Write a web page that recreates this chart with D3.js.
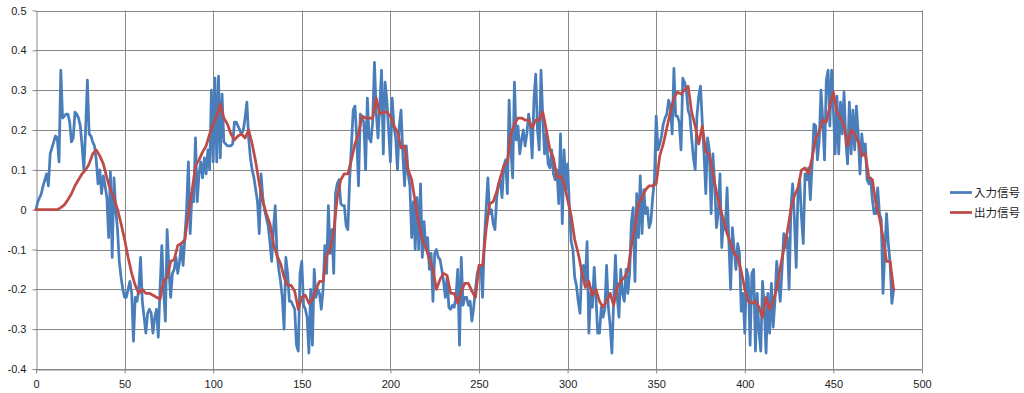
<!DOCTYPE html>
<html><head><meta charset="utf-8">
<script src="https://cdn.jsdelivr.net/npm/d3@7"></script>
<style>body{margin:0;background:#fff;} svg{display:block}</style>
</head><body><svg id="c" width="1024" height="393"></svg>
<script>
// 入力信号: one value per sample, x = 0..484
const inputSignal = [
0.00,0.02,0.03,0.04,0.06,0.075,0.09,0.06,0.14,0.155,
0.17,0.185,0.18,0.12,0.35,0.23,0.235,0.24,0.24,0.22,
0.17,0.18,0.245,0.24,0.23,0.21,0.16,0.10,0.20,0.325,
0.19,0.185,0.17,0.16,0.125,0.065,0.10,0.04,0.085,0.06,
0.03,-0.07,0.095,-0.12,0.08,0.0,-0.05,-0.13,-0.17,-0.2,
-0.22,-0.22,-0.2,-0.18,-0.21,-0.33,-0.22,-0.23,-0.2,-0.12,
-0.23,-0.27,-0.31,-0.26,-0.25,-0.26,-0.31,-0.27,-0.25,-0.32,
-0.2,-0.09,-0.2,-0.28,-0.05,-0.15,-0.22,-0.16,-0.15,-0.12,
-0.16,-0.13,-0.09,-0.14,-0.07,0.0,0.12,-0.06,0.04,0.02,
0.18,0.02,0.09,0.12,0.08,0.13,0.09,0.15,0.10,0.30,
0.12,0.33,0.12,0.335,0.13,0.29,0.17,0.165,0.16,0.16,
0.16,0.165,0.22,0.22,0.21,0.20,0.19,0.20,0.23,0.27,
0.18,0.13,0.10,0.08,0.05,0.02,-0.06,0.09,0.03,0.00,
-0.02,-0.04,-0.08,-0.13,-0.05,0.01,-0.11,-0.15,-0.18,-0.22,
-0.30,-0.12,-0.16,-0.23,-0.23,-0.24,-0.25,-0.34,-0.355,-0.16,
-0.13,-0.24,-0.25,-0.27,-0.36,-0.20,-0.34,-0.15,-0.22,-0.20,
-0.21,-0.25,-0.20,-0.09,-0.16,0.01,-0.11,-0.05,-0.16,0.04,
0.065,0.075,0.015,0.01,0.01,-0.04,-0.05,0.075,0.16,0.25,
0.26,0.18,0.06,0.24,0.23,0.22,0.10,0.28,0.18,0.17,
0.22,0.37,0.245,0.18,0.26,0.35,0.14,0.32,0.275,0.20,
0.12,0.28,0.21,0.18,0.10,0.21,0.25,0.14,0.06,0.16,
0.09,0.06,-0.07,0.02,-0.10,0.03,-0.10,0.065,-0.12,-0.03,
-0.10,-0.07,-0.15,-0.11,-0.23,-0.11,-0.10,-0.12,-0.125,-0.15,
-0.18,-0.22,-0.17,-0.245,-0.25,-0.24,-0.245,-0.22,-0.15,-0.34,
-0.12,-0.24,-0.22,-0.22,-0.24,-0.23,-0.28,-0.245,-0.20,-0.16,
-0.145,-0.14,-0.22,-0.08,0.0,0.08,-0.01,0.0,-0.035,-0.05,
0.03,0.065,0.075,0.03,0.11,0.125,0.04,0.275,0.15,0.08,
0.32,0.175,0.21,0.14,0.175,0.2,0.16,0.19,0.24,0.21,
0.13,0.275,0.34,0.2,0.15,0.35,0.23,0.14,0.19,0.115,
0.105,0.15,0.09,0.075,0.1,0.015,0.19,-0.035,0.15,0.05,
0.115,0.005,-0.08,-0.10,-0.17,-0.19,-0.23,-0.26,-0.145,-0.14,
-0.18,-0.08,-0.31,-0.21,-0.245,-0.145,-0.22,-0.31,-0.31,-0.245,
-0.27,-0.25,-0.14,-0.245,-0.29,-0.36,-0.23,-0.115,-0.22,-0.27,
-0.15,-0.21,-0.23,-0.15,-0.21,-0.16,-0.03,0.005,-0.18,0.04,
-0.07,0.085,-0.06,0.05,-0.01,0.005,-0.045,-0.03,0.03,0.075,
0.235,0.15,0.165,0.185,0.215,0.23,0.24,0.275,0.26,0.19,
0.355,0.235,0.235,0.22,0.15,0.33,0.32,0.30,0.25,0.235,
0.18,0.13,0.10,0.235,0.285,0.31,0.22,0.14,0.04,0.18,
0.15,-0.01,0.14,0.065,-0.045,-0.01,0.09,-0.095,-0.025,-0.05,
0.055,-0.08,-0.20,-0.045,-0.10,-0.15,-0.085,-0.11,-0.255,-0.21,
-0.31,-0.15,-0.17,-0.34,-0.16,-0.15,-0.355,-0.21,-0.305,-0.355,
-0.18,-0.245,-0.36,-0.21,-0.31,-0.185,-0.295,-0.23,-0.13,-0.18,
-0.23,-0.15,-0.06,-0.095,-0.07,-0.2,0.0,0.065,-0.025,-0.145,
0.04,0.075,-0.02,-0.085,0.09,0.075,0.105,0.025,0.115,0.215,
0.21,0.125,0.175,0.3,0.225,0.125,0.325,0.35,0.21,0.35,
0.25,0.14,0.285,0.14,0.27,0.19,0.295,0.175,0.115,0.27,
0.14,0.25,0.15,0.26,0.19,0.09,0.19,0.14,0.165,0.075,
0.065,0.08,0.025,-0.01,-0.01,0.055,-0.01,-0.025,-0.21,-0.11,
-0.01,-0.085,-0.135,-0.235,-0.20
];
// 出力信号: read every 2 samples, x = 0,2,...,484
const outputStep = 2;
const outputSignal = [
0,0,0,0,0,0,0,0.005,0.012,0.025,
0.04,0.06,0.075,0.09,0.1,0.115,0.14,0.15,0.135,0.115,
0.08,0.05,0.03,0.0,-0.035,-0.075,-0.12,-0.16,-0.19,-0.21,
-0.2,-0.21,-0.21,-0.215,-0.22,-0.225,-0.18,-0.17,-0.13,-0.125,
-0.09,-0.085,-0.075,-0.01,0.045,0.11,0.125,0.145,0.16,0.19,
0.215,0.235,0.265,0.23,0.215,0.19,0.175,0.185,0.19,0.18,
0.2,0.165,0.12,0.065,0.02,-0.01,-0.035,-0.085,-0.115,-0.135,
-0.17,-0.19,-0.19,-0.205,-0.25,-0.22,-0.215,-0.235,-0.225,-0.2,
-0.18,-0.18,-0.115,-0.1,-0.055,0.03,0.075,0.09,0.09,0.125,
0.165,0.19,0.235,0.23,0.23,0.23,0.28,0.24,0.245,0.245,
0.235,0.21,0.195,0.155,0.16,0.1,0.075,0.02,-0.035,-0.075,
-0.095,-0.125,-0.15,-0.2,-0.175,-0.16,-0.165,-0.21,-0.21,-0.235,
-0.205,-0.185,-0.185,-0.205,-0.22,-0.14,-0.14,-0.05,0.015,0.02,
0.045,0.08,0.11,0.12,0.19,0.215,0.23,0.23,0.225,0.225,
0.205,0.225,0.225,0.245,0.2,0.15,0.13,0.08,0.085,0.065,
0.025,-0.015,-0.075,-0.11,-0.155,-0.195,-0.18,-0.215,-0.2,-0.23,
-0.245,-0.23,-0.21,-0.24,-0.195,-0.18,-0.17,-0.155,-0.09,-0.045,
0.015,0.03,0.05,0.06,0.06,0.065,0.135,0.165,0.205,0.245,
0.28,0.295,0.29,0.3,0.31,0.245,0.21,0.165,0.21,0.145,
0.14,0.09,0.045,0.005,-0.025,-0.06,-0.085,-0.11,-0.12,-0.155,
-0.2,-0.23,-0.235,-0.23,-0.245,-0.27,-0.22,-0.25,-0.23,-0.2,
-0.145,-0.1,-0.055,0.0,0.035,0.055,0.1,0.105,0.09,0.13,
0.18,0.195,0.225,0.22,0.26,0.295,0.245,0.23,0.21,0.16,
0.2,0.19,0.17,0.135,0.14,0.08,0.075,0.015,-0.02,-0.07,
-0.13,-0.13,-0.2
];
const xTicks = [0,50,100,150,200,250,300,350,400,450,500];
const yTicks = [-0.4,-0.3,-0.2,-0.1,0,0.1,0.2,0.3,0.4,0.5];
const seriesNames = ["入力信号","出力信号"];
const seriesColors = ["#4A7EBB","#BE4B48"];

const svg = d3.select("#c");
const x = d3.scaleLinear().domain([0,500]).range([36,922]);
const y = d3.scaleLinear().domain([-0.4,0.5]).range([369,10.5]);
const grid = "#878787";
const fmt = d => String(+d.toFixed(1));

// horizontal gridlines
svg.append("g").selectAll("line").data(yTicks).join("line")
  .attr("x1",x(0)).attr("x2",x(500))
  .attr("y1",d=>Math.round(y(d))+0.5).attr("y2",d=>Math.round(y(d))+0.5)
  .attr("stroke",grid).attr("stroke-width",1);
// vertical gridlines
svg.append("g").selectAll("line").data(xTicks.filter(d=>d>0)).join("line")
  .attr("x1",d=>Math.round(x(d))+0.5).attr("x2",d=>Math.round(x(d))+0.5)
  .attr("y1",y(0.5)).attr("y2",y(-0.4))
  .attr("stroke",grid).attr("stroke-width",1);

// axes
const yAxis = svg.append("g").attr("transform",`translate(${Math.round(x(0))+0.5},0)`)
  .call(d3.axisLeft(y).tickValues(yTicks).tickSize(4).tickSizeOuter(0).tickPadding(6).tickFormat(fmt));
const xAxis = svg.append("g").attr("transform",`translate(0,${Math.round(y(-0.4))+0.5})`)
  .call(d3.axisBottom(x).tickValues(xTicks).tickSize(4).tickSizeOuter(0).tickPadding(7).tickFormat(fmt));
[yAxis,xAxis].forEach(a=>{
  a.select(".domain").attr("stroke",grid);
  a.selectAll(".tick line").attr("stroke",grid);
  a.selectAll("text").attr("fill","#222").style("font-family","'Liberation Sans', Arial, sans-serif").style("font-size","11px");
});

// series
const inData = inputSignal.map((v,i)=>[i,v]);
const outData = outputSignal.map((v,i)=>[i*outputStep,v]);
const line = d3.line().x(d=>x(d[0])).y(d=>y(d[1]));
[inData,outData].forEach((ds,k)=>{
  svg.append("path").datum(ds).attr("d",line)
    .attr("fill","none").attr("stroke",seriesColors[k]).attr("stroke-width",2.75)
    .attr("stroke-linejoin","round").attr("stroke-linecap","round");
});

// legend
const lg = svg.append("g");
seriesNames.forEach((n,k)=>{
  const yy = 192.5 + k*20;
  lg.append("line").attr("x1",950).attr("x2",972).attr("y1",yy).attr("y2",yy)
    .attr("stroke",seriesColors[k]).attr("stroke-width",2.75);
  lg.append("text").attr("x",974).attr("y",yy).attr("dy","0.36em")
    .style("font-family","'Noto Sans CJK JP', sans-serif").style("font-size","11.5px")
    .attr("fill","#222").text(n);
});
</script></body></html>
